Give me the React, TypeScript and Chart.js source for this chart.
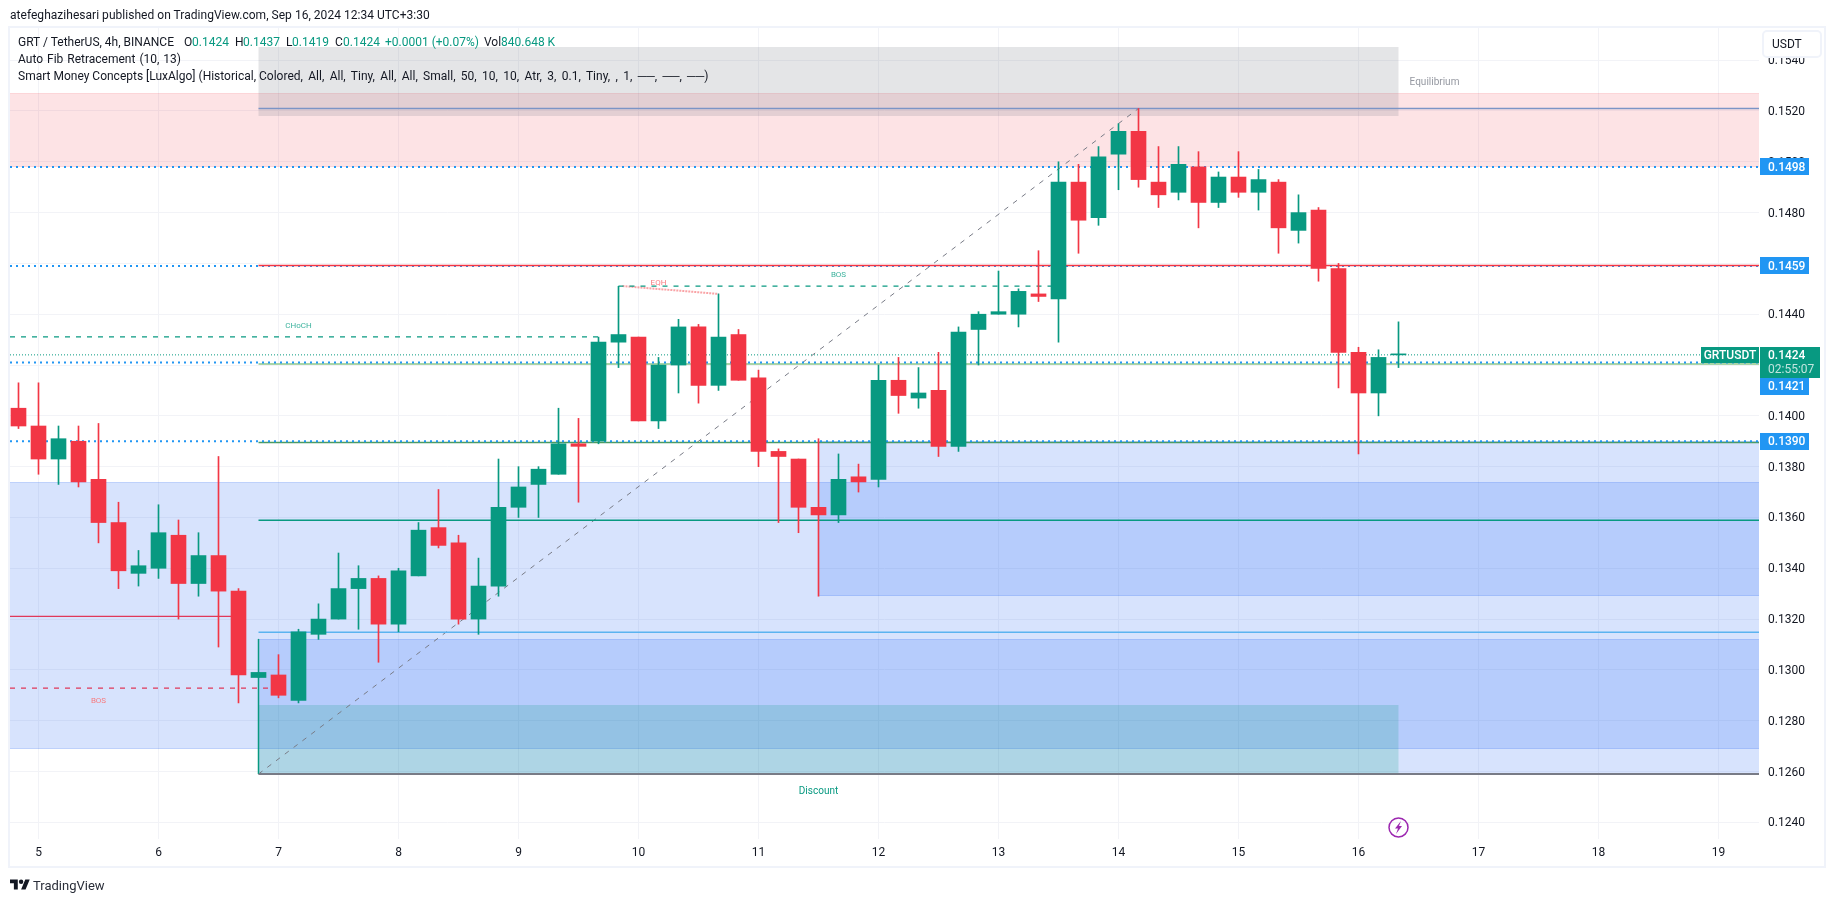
import React, { useEffect, useRef } from "react";
import { Chart, registerables } from "chart.js";

Chart.register(...registerables);

const FONT = 'Roboto, sans-serif';
const GREEN = "#089981";
const RED = "#F23645";
const BLUE = "#2196F3";
const INK = "#131722";

// Candles, 4h, oldest first (price)
const opens = [0.1403,0.1396,0.1383,0.139,0.1375,0.1358,0.1338,0.134,0.1353,0.1334,0.1345,0.1331,0.1297,0.1298,0.1288,0.1314,0.132,0.1332,0.1336,0.1318,0.1337,0.1356,0.135,0.132,0.1333,0.1364,0.1373,0.1377,0.1389,0.139,0.1429,0.1431,0.1398,0.142,0.1435,0.1412,0.1432,0.1415,0.1386,0.1383,0.1364,0.1361,0.1376,0.1375,0.1414,0.1407,0.141,0.1388,0.1434,0.144,0.144,0.1448,0.1446,0.1492,0.1478,0.1503,0.1512,0.1492,0.1488,0.1498,0.1484,0.1494,0.1488,0.1492,0.1473,0.1481,0.1458,0.1425,0.1409,0.1424];
const highs = [0.1413,0.1413,0.1396,0.1396,0.1397,0.1366,0.1347,0.1365,0.1359,0.1354,0.1384,0.1332,0.1299,0.1306,0.1316,0.1326,0.1346,0.1341,0.1337,0.134,0.1358,0.1371,0.1353,0.1344,0.1383,0.138,0.138,0.1403,0.1399,0.1431,0.1451,0.1431,0.1423,0.1438,0.1436,0.1448,0.1434,0.1418,0.1387,0.1383,0.1391,0.1385,0.1381,0.142,0.1423,0.1419,0.1425,0.1435,0.1441,0.1457,0.145,0.1465,0.15,0.1499,0.1506,0.1515,0.1521,0.1506,0.1506,0.1504,0.1496,0.1504,0.1497,0.1493,0.1487,0.1482,0.146,0.1427,0.1426,0.1437];
const lows = [0.1395,0.1377,0.1373,0.1372,0.135,0.1332,0.1333,0.1336,0.132,0.1329,0.1309,0.1287,0.1297,0.1289,0.1287,0.1312,0.132,0.1316,0.1303,0.1315,0.1337,0.1348,0.1318,0.1314,0.1329,0.136,0.136,0.1377,0.1366,0.1389,0.1419,0.1398,0.1395,0.1409,0.1405,0.141,0.1414,0.138,0.1358,0.1354,0.1329,0.1358,0.137,0.1372,0.1401,0.1403,0.1384,0.1386,0.142,0.144,0.1435,0.1445,0.1429,0.1464,0.1475,0.1489,0.149,0.1482,0.1485,0.1474,0.1482,0.1486,0.1481,0.1464,0.1468,0.1453,0.1411,0.1385,0.14,0.1419];
const closes = [0.1396,0.1383,0.1391,0.1374,0.1358,0.1339,0.1341,0.1354,0.1334,0.1345,0.1331,0.1298,0.1299,0.129,0.1315,0.132,0.1332,0.1336,0.1318,0.1339,0.1355,0.1349,0.132,0.1333,0.1364,0.1372,0.1379,0.1389,0.1388,0.1429,0.1432,0.1398,0.142,0.1435,0.1412,0.1431,0.1414,0.1386,0.1384,0.1364,0.1361,0.1375,0.1374,0.1414,0.1408,0.1409,0.1388,0.1433,0.144,0.1441,0.1449,0.1447,0.1492,0.1477,0.1502,0.1512,0.1493,0.1487,0.1499,0.1484,0.1494,0.1488,0.1493,0.1474,0.148,0.1458,0.1425,0.1409,0.1423,0.1424];

// Axes
const dayLabels = ["5","6","7","8","9","10","11","12","13","14","15","16","17","18","19"];
const dayIndexes = [1,7,13,19,25,31,37,43,49,55,61,67,73,79,85];
const priceTicks = [0.124,0.126,0.128,0.13,0.132,0.134,0.136,0.138,0.14,0.142,0.144,0.146,0.148,0.15,0.152,0.154];
const X_MIN = -0.425;
const X_MAX = 87.025;
const Y_MIN = 0.123343;
const Y_MAX = 0.155267;
const Z0 = 12;  // first bar of the fib range
const Z1 = 69;  // last bar
const ZR = X_MAX;

// Zones: x from, x to, price top, price bottom
const zoneBlue1 = [X_MIN, ZR, 0.13738, 0.1269];
const zoneBlue2 = [40, ZR, 0.139, 0.13292];
const zoneBlue3 = [Z0, ZR, 0.13122, 0.1259];
const zoneRed = [X_MIN, ZR, 0.15271, 0.1498];
const zoneGrey = [Z0, Z1, 0.15452, 0.1518];
const zoneTeal = [Z0, Z1, 0.12862, 0.1259];

// Horizontal levels
const alertLevels = [0.1498, 0.1459, 0.1421, 0.139];
const lastPrice = 0.1424;
const fibHigh = 0.1521;
const fibLow = 0.1259;
const swingHighLine = 0.145918;
const paleLine = 0.14204;
const oliveLine = 0.13895;
const tealLine = 0.13589;
const skyLine = 0.13148;
const crimsonLine = 0.13211;
const bosRedLine = 0.12928;
const chochLine = 0.14311;
const bosGreenLine = 0.14511;
const eqhEnd = 0.1448;

// Chart labels: text, x, price
const chartLabels: [string, number, number, string, number][] = [
  ["CHoCH", 14, 0.14359, "#3DB39E", 8],
  ["BOS", 41, 0.14558, "#3DB39E", 8],
  ["EQH", 32, 0.14528, "#F77C80", 8],
  ["BOS", 4, 0.12883, "#F77C80", 8],
  ["Equilibrium", 70.8, 0.15315, "#9598A1", 10],
  ["Discount", 40, 0.12527, GREEN, 10],
];

const hline = (price: number, x0: number, x1: number, color: string, width: number, dash: number[], order = 6) => ({
  type: "line" as const,
  data: [{ x: x0, y: price }, { x: x1, y: price }],
  borderColor: color,
  borderWidth: width,
  borderDash: dash,
  pointRadius: 0,
  order,
});

const seg = (x0: number, y0: number, x1: number, y1: number, color: string, width: number, dash: number[], order = 6) => ({
  type: "line" as const,
  data: [{ x: x0, y: y0 }, { x: x1, y: y1 }],
  borderColor: color,
  borderWidth: width,
  borderDash: dash,
  pointRadius: 0,
  order,
});

const zonesPlugin = {
  id: "zones",
  beforeDatasetsDraw(chart: any) {
    const { ctx, scales: { x, y } } = chart;
    const fill = (z: number[], color: string, edge?: string) => {
      const l = x.getPixelForValue(z[0]);
      const r = x.getPixelForValue(z[1]);
      const t = Math.round(y.getPixelForValue(z[2]));
      const b = Math.round(y.getPixelForValue(z[3]));
      ctx.fillStyle = color;
      ctx.fillRect(l, t, r - l, b - t);
      if (edge) {
        ctx.fillStyle = edge;
        ctx.fillRect(l, t, r - l, 1);
        ctx.fillRect(l, b - 1, r - l, 1);
      }
    };
    ctx.save();
    const blue = "rgba(33,100,243,0.18)";
    const blueEdge = "rgba(33,100,243,0.14)";
    fill(zoneRed, "rgba(242,54,69,0.14)", "rgba(242,54,69,0.08)");
    fill(zoneBlue1, blue, blueEdge);
    fill(zoneBlue2, blue, blueEdge);
    fill(zoneBlue3, blue, blueEdge);
    fill(zoneGrey, "rgba(120,123,134,0.2)");
    fill(zoneTeal, "rgba(8,153,129,0.2)");
    ctx.restore();
  },
};

const tagsPlugin = {
  id: "tags",
  afterDraw(chart: any) {
    const { ctx, scales: { x, y } } = chart;
    ctx.save();
    // small labels on the chart
    ctx.textAlign = "center";
    ctx.textBaseline = "middle";
    for (const [text, ix, price, color, size] of chartLabels) {
      ctx.font = `${size}px ${FONT}`;
      ctx.fillStyle = color;
      ctx.fillText(text, x.getPixelForValue(ix), y.getPixelForValue(price) + 1);
    }
    // alert tags on the price axis
    const tag = (price: number, shift: number) => {
      const cy = y.getPixelForValue(price) + shift;
      ctx.fillStyle = BLUE;
      ctx.fillRect(1760, Math.round(cy - 8.5), 49, 17);
      ctx.fillStyle = "#FFFFFF";
      ctx.font = `500 12px ${FONT}`;
      ctx.textAlign = "left";
      ctx.fillText(price.toFixed(4), 1768, cy + 1);
    };
    tag(alertLevels[0], 0);
    tag(alertLevels[1], 0);
    tag(alertLevels[3], 0);
    tag(alertLevels[2], 24);
    // last price
    const py = y.getPixelForValue(lastPrice);
    ctx.fillStyle = GREEN;
    ctx.fillRect(1760, Math.round(py - 8), 60, 31);
    ctx.fillRect(1701, Math.round(py - 8), 58, 16);
    ctx.fillStyle = "#FFFFFF";
    ctx.font = `500 12px ${FONT}`;
    ctx.textAlign = "left";
    ctx.fillText(lastPrice.toFixed(4), 1768, py + 1);
    ctx.textAlign = "center";
    ctx.fillText("GRTUSDT", 1730, py + 1);
    ctx.textAlign = "left";
    ctx.font = `12px ${FONT}`;
    ctx.fillStyle = "rgba(255,255,255,0.75)";
    ctx.fillText("02:55:07", 1768, py + 15);
    // currency button
    ctx.fillStyle = "#FFFFFF";
    ctx.strokeStyle = "#F0F3FA";
    ctx.lineWidth = 2;
    ctx.beginPath();
    ctx.roundRect(1763, 31, 58, 26, 4);
    ctx.fill();
    ctx.stroke();
    ctx.fillStyle = INK;
    ctx.font = `12px ${FONT}`;
    ctx.fillText("USDT", 1772, 45);
    // lightning badge
    const bx = x.getPixelForValue(Z1);
    const by = y.getPixelForValue(0.1238);
    ctx.strokeStyle = "#9C27B0";
    ctx.fillStyle = "#9C27B0";
    ctx.lineWidth = 1.5;
    ctx.beginPath();
    ctx.arc(bx, by, 9.5, 0, Math.PI * 2);
    ctx.stroke();
    ctx.beginPath();
    ctx.moveTo(bx + 2.5, by - 6.5);
    ctx.lineTo(bx - 3.5, by + 1);
    ctx.lineTo(bx - 0.5, by + 1);
    ctx.lineTo(bx - 2.5, by + 6.5);
    ctx.lineTo(bx + 3.5, by - 1.5);
    ctx.lineTo(bx + 0.5, by - 1.5);
    ctx.closePath();
    ctx.fill();
    ctx.restore();
  },
};

const abs = (left: number, top: number, extra: React.CSSProperties = {}): React.CSSProperties => ({
  position: "absolute",
  left,
  top,
  whiteSpace: "nowrap",
  fontFamily: FONT,
  fontSize: 12,
  lineHeight: "16px",
  color: INK,
  ...extra,
});

const legendCells: [number, string, string][] = [
  [18, "GRT / TetherUS, 4h, BINANCE", INK],
  [184, "O", INK],
  [192, "0.1424", GREEN],
  [235, "H", INK],
  [243, "0.1437", GREEN],
  [286, "L", INK],
  [292, "0.1419", GREEN],
  [335, "C", INK],
  [343, "0.1424", GREEN],
  [385, "+0.0001 (+0.07%)", GREEN],
  [484, "Vol", INK],
  [501, "840.648 K", GREEN],
];

export default function App() {
  const ref = useRef<HTMLCanvasElement | null>(null);
  useEffect(() => {
    const colors = opens.map((o, i) => (closes[i] >= o ? GREEN : RED));
    const chart = new Chart(ref.current as HTMLCanvasElement, {
      type: "bar",
      data: {
        datasets: [
          {
            data: opens.map((o, i) => ({ x: i, y: [o, closes[i]] })),
            backgroundColor: colors,
            barThickness: 15,
            minBarLength: 1,
            grouped: false,
            borderWidth: 0,
            order: 0,
          },
          {
            data: opens.map((_, i) => ({ x: i, y: [lows[i], highs[i]] })),
            backgroundColor: colors,
            barThickness: 1,
            grouped: false,
            borderWidth: 0,
            order: 1,
          },
          hline(swingHighLine, Z0, ZR, RED, 1.5, [], 2),
          hline(lastPrice, X_MIN, ZR, GREEN, 1, [1, 2], 2),
          ...alertLevels.map((p) => hline(p, X_MIN, ZR, BLUE, 2, [2, 4], 3)),
          hline(paleLine, Z0, ZR, "#A9D5A6", 2, [], 4),
          hline(oliveLine, Z0, ZR, "#4C9B60", 1.5, [], 4),
          hline(fibHigh, Z0, ZR, "#7B94C6", 1.5, []),
          hline(tealLine, Z0, ZR, GREEN, 1.5, []),
          hline(skyLine, Z0, ZR, "#5AB3F0", 1.5, []),
          hline(crimsonLine, X_MIN, 11, "#E0395A", 1.2, []),
          hline(bosRedLine, X_MIN, 13, "#E0395A", 1.2, [5, 6]),
          hline(chochLine, X_MIN, 29, GREEN, 1.2, [5, 6]),
          hline(bosGreenLine, 30, 52, GREEN, 1.2, [5, 6]),
          seg(30.2, bosGreenLine, 35, eqhEnd, "rgba(247,124,128,0.7)", 2, [2, 1]),
          seg(Z0, fibLow, 56, fibHigh, "#787B86", 1, [5, 6]),
          seg(Z0, fibLow, Z0, zoneBlue3[2], GREEN, 1.5, []),
          hline(fibLow, Z0, ZR, "#787B86", 2, []),
        ],
      } as any,
      options: {
        responsive: false,
        animation: false,
        devicePixelRatio: 1,
        events: [],
        layout: { padding: { left: 10, top: 28, right: 0, bottom: 0 } },
        plugins: { legend: { display: false }, tooltip: { enabled: false } },
        scales: {
          x: {
            type: "linear",
            min: X_MIN,
            max: X_MAX,
            offset: false,
            border: { display: false },
            grid: { offset: false, color: "#F2F3F7", drawTicks: false },
            afterBuildTicks: (s: any) => {
              s.ticks = dayIndexes.map((v) => ({ value: v }));
            },
            afterFit: (s: any) => {
              s.height = 64;
            },
            ticks: {
              autoSkip: false,
              maxRotation: 0,
              padding: 7,
              color: INK,
              font: { family: FONT, size: 12 },
              callback: (v: any) => dayLabels[dayIndexes.indexOf(v)],
            },
          },
          y: {
            type: "linear",
            position: "right",
            min: Y_MIN,
            max: Y_MAX,
            border: { display: false },
            grid: { color: "#F2F3F7", drawTicks: false },
            afterBuildTicks: (s: any) => {
              s.ticks = priceTicks.map((v) => ({ value: v }));
            },
            afterFit: (s: any) => {
              s.width = 76;
            },
            ticks: {
              autoSkip: false,
              padding: 9,
              labelOffset: 1,
              color: INK,
              font: { family: FONT, size: 12 },
              callback: (v: any) => Number(v).toFixed(4),
            },
          },
        },
      } as any,
      plugins: [zonesPlugin, tagsPlugin],
    });
    return () => chart.destroy();
  }, []);

  return (
    <div style={{ position: "fixed", left: 0, top: 0, width: 1835, height: 903, background: "#FFFFFF", overflow: "hidden" }}>
      <div style={{ position: "absolute", left: 8, top: 26, width: 1818, height: 842, boxSizing: "border-box", border: "2px solid #F0F3FA" }} />
      <canvas ref={ref} width={1835} height={903} style={{ position: "absolute", left: 0, top: 0, width: 1835, height: 903 }} />
      <div style={abs(10, 7, { letterSpacing: 0.03 })}>atefeghazihesari published on TradingView.com, Sep 16, 2024 12:34 UTC+3:30</div>
      {legendCells.map(([left, text, color], i) => (
        <div key={i} style={abs(left, 34, { color })}>{text}</div>
      ))}
      <div style={abs(18, 51, { wordSpacing: 1 })}>Auto Fib Retracement (10, 13)</div>
      <div style={abs(18, 68)}>Smart Money Concepts [LuxAlgo] (Historical, <span style={{ wordSpacing: 2.4 }}>Colored, All, All, Tiny, All, All, Small, 50, 10, 10, Atr, 3, 0.1, Tiny, , 1, ──, ──, ──)</span></div>
      <svg style={{ position: "absolute", left: 10, top: 877 }} width={20} height={16} viewBox="0 0 36 28">
        <path d="M14 22H7V11H0V4h14v18zM28 22h-8l7.5-18h8L28 22z" fill="#131722" />
        <circle cx="20" cy="8" r="4" fill="#131722" />
      </svg>
      <div style={abs(33, 878, { fontSize: 13, color: "#2A2E39" })}>TradingView</div>
    </div>
  );
}
